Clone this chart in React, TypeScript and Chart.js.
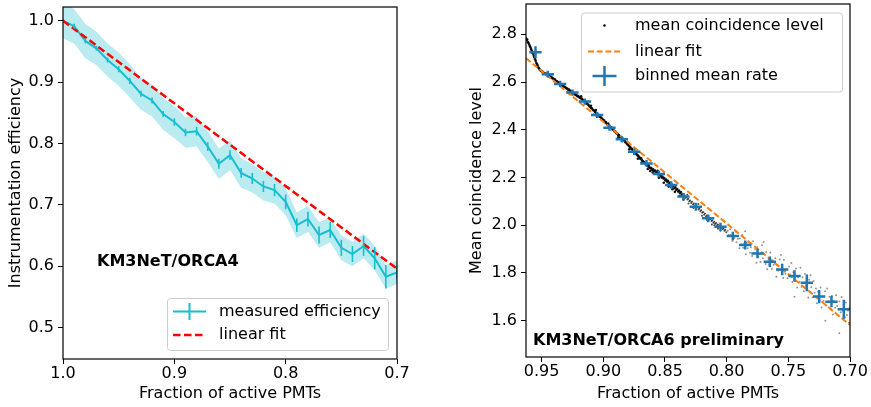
import { useEffect, useRef } from 'react';
import { Chart, registerables } from 'chart.js';

Chart.register(...registerables);

const FONT = '"DejaVu Sans", "Liberation Sans", sans-serif';

// ---------- Left panel: KM3NeT/ORCA4 ----------
const effFraction = [1.00, 0.99, 0.98, 0.97, 0.96, 0.95, 0.94, 0.93, 0.92, 0.91, 0.90, 0.89, 0.88, 0.87, 0.86, 0.85, 0.84, 0.83, 0.82, 0.81, 0.80, 0.79, 0.78, 0.77, 0.76, 0.75, 0.74, 0.73, 0.72, 0.71, 0.70];
const effValue = [1.000, 0.991, 0.967, 0.955, 0.936, 0.921, 0.902, 0.881, 0.870, 0.848, 0.835, 0.818, 0.820, 0.795, 0.767, 0.781, 0.752, 0.743, 0.730, 0.724, 0.705, 0.667, 0.677, 0.651, 0.659, 0.630, 0.620, 0.633, 0.613, 0.583, 0.590];
const effErr = [0.003, 0.004, 0.004, 0.004, 0.004, 0.005, 0.005, 0.005, 0.005, 0.005, 0.006, 0.006, 0.007, 0.007, 0.008, 0.008, 0.008, 0.009, 0.009, 0.010, 0.012, 0.011, 0.012, 0.014, 0.013, 0.013, 0.013, 0.016, 0.018, 0.019, 0.012];
const effBand = [0.029, 0.028, 0.028, 0.027, 0.027, 0.027, 0.027, 0.026, 0.026, 0.026, 0.026, 0.025, 0.025, 0.025, 0.025, 0.024, 0.024, 0.023, 0.023, 0.022, 0.022, 0.021, 0.021, 0.021, 0.020, 0.020, 0.020, 0.020, 0.020, 0.019, 0.019];
const effFitX = [1.0, 0.7];
const effFitY = [1.0, 0.596];
const leftXTicks = [1.0, 0.9, 0.8, 0.7];
const leftYTicks = [0.5, 0.6, 0.7, 0.8, 0.9, 1.0];

// ---------- Right panel: KM3NeT/ORCA6 ----------
const binFraction = [0.955, 0.945, 0.935, 0.925, 0.915, 0.905, 0.895, 0.885, 0.875, 0.865, 0.855, 0.845, 0.835, 0.825, 0.815, 0.805, 0.795, 0.785, 0.775, 0.765, 0.755, 0.745, 0.735, 0.725, 0.715, 0.705];
const binRate = [2.725, 2.633, 2.592, 2.556, 2.518, 2.462, 2.409, 2.360, 2.308, 2.259, 2.215, 2.169, 2.120, 2.078, 2.029, 1.994, 1.955, 1.917, 1.882, 1.847, 1.815, 1.787, 1.759, 1.701, 1.680, 1.648];
const binRateErr = [0.025, 0.014, 0.013, 0.013, 0.013, 0.013, 0.013, 0.013, 0.014, 0.014, 0.014, 0.015, 0.015, 0.016, 0.016, 0.017, 0.018, 0.019, 0.020, 0.022, 0.024, 0.024, 0.035, 0.028, 0.024, 0.040];
const binHalfWidth = [0.005, 0.005, 0.005, 0.005, 0.005, 0.005, 0.005, 0.005, 0.005, 0.005, 0.005, 0.005, 0.005, 0.005, 0.005, 0.005, 0.005, 0.005, 0.005, 0.005, 0.005, 0.005, 0.005, 0.005, 0.005, 0.005];
const rateFitX = [0.9627, 0.70];
const rateFitY = [2.700, 1.582];
const rightXTicks = [0.95, 0.90, 0.85, 0.80, 0.75, 0.70];
const rightYTicks = [1.6, 1.8, 2.0, 2.2, 2.4, 2.6, 2.8];

const coincidenceDots: number[][] = [
  [0.9627, 2.783], [0.9622, 2.776], [0.9617, 2.778], [0.9612, 2.768], [0.9607, 2.764], [0.9601, 2.757], [0.9596, 2.751], [0.9591, 2.746], [0.9586, 2.738], [0.9580, 2.732],
  [0.9575, 2.723], [0.9570, 2.719], [0.9564, 2.710], [0.9559, 2.703], [0.9553, 2.695], [0.9548, 2.688], [0.9543, 2.680], [0.9537, 2.674], [0.9532, 2.668], [0.9526, 2.661],
  [0.9521, 2.657], [0.9515, 2.652], [0.9508, 2.648], [0.9501, 2.645], [0.9494, 2.644], [0.9487, 2.639], [0.9480, 2.638], [0.9472, 2.634], [0.9465, 2.636], [0.9458, 2.630],
  [0.9450, 2.631], [0.9443, 2.626], [0.9436, 2.625], [0.9428, 2.620], [0.9421, 2.622], [0.9413, 2.616], [0.9406, 2.615], [0.9398, 2.609], [0.9391, 2.610], [0.9383, 2.604],
  [0.9376, 2.603], [0.9368, 2.599], [0.9361, 2.598], [0.9353, 2.594], [0.9346, 2.590], [0.9338, 2.591], [0.9331, 2.585], [0.9323, 2.583], [0.9316, 2.580], [0.9308, 2.578],
  [0.9301, 2.574], [0.9293, 2.573], [0.9286, 2.568], [0.9278, 2.569], [0.9271, 2.563], [0.9263, 2.562], [0.9256, 2.557], [0.9248, 2.556], [0.9241, 2.552], [0.9233, 2.551],
  [0.9226, 2.546], [0.9218, 2.546], [0.9211, 2.541], [0.9203, 2.541], [0.9196, 2.536], [0.9188, 2.534], [0.9181, 2.531], [0.9173, 2.530], [0.9166, 2.525], [0.9158, 2.524],
  [0.9151, 2.519], [0.9143, 2.516], [0.9136, 2.512], [0.9128, 2.507], [0.9121, 2.505], [0.9113, 2.499], [0.9106, 2.497], [0.9098, 2.490], [0.9091, 2.489], [0.9083, 2.483],
  [0.9076, 2.481], [0.9068, 2.476], [0.9061, 2.472], [0.9053, 2.469], [0.9046, 2.464], [0.9038, 2.462], [0.9031, 2.455], [0.9023, 2.454], [0.9016, 2.448], [0.9008, 2.446],
  [0.9001, 2.441], [0.8993, 2.439], [0.8986, 2.432], [0.8978, 2.431], [0.8971, 2.424], [0.8963, 2.423], [0.8956, 2.417], [0.8948, 2.414], [0.8941, 2.409], [0.8933, 2.409],
  [0.8926, 2.401], [0.8918, 2.400], [0.8911, 2.394], [0.8903, 2.393], [0.8896, 2.386], [0.8888, 2.385], [0.8881, 2.379], [0.8873, 2.378], [0.8866, 2.371], [0.8858, 2.370],
  [0.8851, 2.364], [0.8843, 2.361], [0.8836, 2.356], [0.8828, 2.355], [0.8821, 2.348], [0.8813, 2.346], [0.8806, 2.339], [0.8798, 2.337], [0.8791, 2.331], [0.8783, 2.329],
  [0.8776, 2.322], [0.8768, 2.320], [0.8761, 2.314], [0.8753, 2.311], [0.8746, 2.306], [0.8738, 2.301], [0.8731, 2.298], [0.8723, 2.292], [0.8716, 2.291], [0.8708, 2.285],
  [0.8701, 2.279], [0.8693, 2.280], [0.8686, 2.272], [0.8678, 2.268], [0.8671, 2.264], [0.8663, 2.262], [0.8656, 2.255], [0.8648, 2.253], [0.8641, 2.248], [0.8633, 2.251],
  [0.8626, 2.243], [0.8618, 2.238], [0.8611, 2.240], [0.8603, 2.232], [0.8596, 2.234], [0.8588, 2.226], [0.8581, 2.229], [0.8573, 2.219], [0.8566, 2.222], [0.8558, 2.214],
  [0.8551, 2.216], [0.8543, 2.207], [0.8536, 2.210], [0.8528, 2.200], [0.8521, 2.204], [0.8513, 2.196], [0.8506, 2.198], [0.8498, 2.188], [0.8491, 2.192], [0.8483, 2.182],
  [0.8476, 2.186], [0.8468, 2.175], [0.8461, 2.179], [0.8453, 2.170], [0.8446, 2.172], [0.8438, 2.162], [0.8431, 2.166], [0.8423, 2.155], [0.8416, 2.159], [0.8408, 2.148],
  [0.8401, 2.152], [0.8393, 2.141], [0.8386, 2.145], [0.8378, 2.134], [0.8371, 2.139], [0.8363, 2.127], [0.8356, 2.131], [0.8348, 2.121], [0.8341, 2.125], [0.8333, 2.114],
  [0.8326, 2.118], [0.8318, 2.108], [0.8311, 2.111], [0.8303, 2.101], [0.8296, 2.104], [0.8288, 2.093], [0.8281, 2.098], [0.8273, 2.087], [0.8266, 2.091], [0.8258, 2.080],
  [0.8251, 2.083], [0.8243, 2.073], [0.8236, 2.077], [0.8228, 2.066], [0.8221, 2.070], [0.8213, 2.059], [0.8206, 2.063], [0.8198, 2.052], [0.8191, 2.055], [0.8183, 2.044],
  [0.8176, 2.049], [0.8168, 2.037], [0.8161, 2.041], [0.8153, 2.030], [0.8146, 2.034], [0.8138, 2.024], [0.8131, 2.027], [0.8123, 2.018], [0.8116, 2.021], [0.8108, 2.011],
  [0.8101, 2.015], [0.8093, 2.006], [0.8086, 2.009], [0.8078, 2.000], [0.8071, 2.003], [0.8063, 1.995], [0.8056, 1.998], [0.8048, 1.989], [0.8041, 1.993], [0.8033, 1.983],
  [0.8026, 1.987], [0.8018, 1.977], [0.8011, 1.981], [0.8003, 1.971],
  [0.8790, 2.318], [0.8720, 2.279], [0.8640, 2.236], [0.8600, 2.221], [0.8550, 2.199], [0.8470, 2.162], [0.8420, 2.140], [0.8350, 2.108], [0.8310, 2.091], [0.8250, 2.066],
  [0.8200, 2.040], [0.8120, 2.003], [0.8070, 1.985], [0.8320, 2.128], [0.8560, 2.228], [0.8880, 2.368], [0.8960, 2.426], [0.9060, 2.483], [0.9100, 2.501], [0.9180, 2.540],
  [0.8510, 2.178], [0.8440, 2.151], [0.8380, 2.122], [0.8270, 2.072], [0.8160, 2.022], [0.8100, 2.000], [0.8050, 1.977], [0.8620, 2.227], [0.8690, 2.262], [0.8230, 2.089],
  [0.7991, 1.977], [0.7984, 1.958], [0.7972, 1.983], [0.7969, 1.959], [0.7953, 1.934], [0.7947, 1.962], [0.7938, 1.947], [0.7926, 1.973], [0.7921, 1.929], [0.7909, 1.943],
  [0.7897, 1.904], [0.7893, 1.945], [0.7881, 1.920], [0.7874, 1.959], [0.7866, 1.906], [0.7859, 1.922], [0.7844, 1.879], [0.7837, 1.927], [0.7829, 1.904], [0.7818, 1.928],
  [0.7811, 1.885], [0.7804, 1.908], [0.7793, 1.871], [0.7786, 1.933], [0.7777, 1.883], [0.7769, 1.900], [0.7758, 1.843], [0.7752, 1.908], [0.7743, 1.867], [0.7731, 1.879],
  [0.7726, 1.846], [0.7714, 1.916], [0.7707, 1.862], [0.7698, 1.881], [0.7685, 1.838], [0.7679, 1.888], [0.7671, 1.816], [0.7660, 1.859], [0.7654, 1.836], [0.7646, 1.886],
  [0.7633, 1.817], [0.7627, 1.853], [0.7618, 1.834], [0.7606, 1.862], [0.7597, 1.784], [0.7589, 1.833], [0.7581, 1.809], [0.7570, 1.856], [0.7562, 1.812], [0.7553, 1.835],
  [0.7541, 1.779], [0.7536, 1.855], [0.7524, 1.797], [0.7515, 1.815], [0.7507, 1.778], [0.7494, 1.827], [0.7488, 1.794], [0.7476, 1.842], [0.7467, 1.762], [0.7459, 1.803],
  [0.7447, 1.768], [0.7438, 1.819], [0.7429, 1.739], [0.7421, 1.782], [0.7410, 1.763], [0.7402, 1.822], [0.7393, 1.742], [0.7385, 1.782], [0.7374, 1.723], [0.7366, 1.796],
  [0.7358, 1.747], [0.7349, 1.774], [0.7338, 1.697], [0.7331, 1.772], [0.7322, 1.721], [0.7314, 1.740], [0.7303, 1.698], [0.7295, 1.766], [0.7287, 1.717], [0.7276, 1.735],
  [0.7268, 1.673], [0.7259, 1.721], [0.7247, 1.684], [0.7239, 1.739], [0.7231, 1.655], [0.7220, 1.701], [0.7214, 1.684], [0.7202, 1.723], [0.7193, 1.664], [0.7185, 1.735],
  [0.7177, 1.679], [0.7166, 1.700], [0.7158, 1.648], [0.7147, 1.705], [0.7139, 1.626], [0.7130, 1.683], [0.7121, 1.654], [0.7113, 1.707], [0.7104, 1.662], [0.7092, 1.621],
  [0.7086, 1.681], [0.7075, 1.635], [0.7068, 1.699], [0.7059, 1.642], [0.7048, 1.662], [0.7041, 1.614], [0.7033, 1.676], [0.7024, 1.624], [0.7016, 1.643], [0.7008, 1.591],
  [0.7003, 1.654],
  [0.7087, 1.547], [0.7200, 1.600], [0.7450, 1.700], [0.7700, 1.930], [0.7850, 1.975], [0.7320, 1.790], [0.7560, 1.875],
];

const CYAN = '#17becf';
const BLUE = '#1f77b4';
const ORANGE = '#ff7f0e';

const axisFont = { family: FONT, size: 16 };

function fixedTicks(values: number[]) {
  return (scale: any) => {
    scale.ticks = values.map((v) => ({ value: v }));
  };
}

function fitSize(prop: 'width' | 'height', size: number) {
  return (scale: any) => {
    scale[prop] = size;
    scale.paddingTop = 0;
    scale.paddingBottom = 0;
    scale.paddingLeft = 0;
    scale.paddingRight = 0;
  };
}

const framePlugin = {
  id: 'frame',
  afterDraw(chart: any) {
    const { ctx, chartArea } = chart;
    const { left, top, right, bottom } = chartArea;
    ctx.save();
    ctx.strokeStyle = '#000';
    ctx.lineWidth = 1.2;
    ctx.strokeRect(left, top, right - left, bottom - top);
    ctx.restore();
  },
};

const errorBarPlugin = {
  id: 'errorBars',
  afterDatasetsDraw(chart: any) {
    const { ctx, chartArea } = chart;
    const xs = chart.scales.x;
    const ys = chart.scales.y;
    ctx.save();
    ctx.beginPath();
    ctx.rect(chartArea.left, chartArea.top, chartArea.right - chartArea.left, chartArea.bottom - chartArea.top);
    ctx.clip();
    chart.data.datasets.forEach((ds: any) => {
      if (!ds.errY && !ds.errX) return;
      ctx.strokeStyle = ds.errColor;
      ctx.lineWidth = ds.errWidth;
      ctx.lineCap = 'butt';
      ds.data.forEach((p: any, i: number) => {
        const px = xs.getPixelForValue(p.x);
        const py = ys.getPixelForValue(p.y);
        ctx.beginPath();
        if (ds.errY) {
          const e = ds.errY[i];
          ctx.moveTo(px, ys.getPixelForValue(p.y - e));
          ctx.lineTo(px, ys.getPixelForValue(p.y + e));
        }
        if (ds.errX) {
          const e = ds.errX[i];
          ctx.moveTo(xs.getPixelForValue(p.x - e), py);
          ctx.lineTo(xs.getPixelForValue(p.x + e), py);
        }
        ctx.stroke();
      });
    });
    ctx.restore();
  },
};

type LegendItem = { label: string; symbol: (ctx: CanvasRenderingContext2D, x0: number, x1: number, y: number) => void };

function drawLegend(ctx: CanvasRenderingContext2D, x: number, y: number, w: number, h: number, rows: number[], textX: number, symX0: number, symX1: number, items: LegendItem[]) {
  ctx.save();
  ctx.beginPath();
  (ctx as any).roundRect(x + 0.5, y + 0.5, w, h, 3);
  ctx.fillStyle = 'rgba(255,255,255,0.8)';
  ctx.fill();
  ctx.strokeStyle = '#cccccc';
  ctx.lineWidth = 1;
  ctx.stroke();
  items.forEach((it, i) => {
    const ry = y + rows[i];
    it.symbol(ctx, x + symX0, x + symX1, ry);
    ctx.fillStyle = '#000';
    ctx.font = `16px ${FONT}`;
    ctx.textAlign = 'left';
    ctx.textBaseline = 'middle';
    ctx.fillText(it.label, x + textX, ry);
  });
  ctx.restore();
}

function dashedSymbol(color: string, width: number, dash: number[]) {
  return (ctx: CanvasRenderingContext2D, x0: number, x1: number, y: number) => {
    ctx.save();
    ctx.strokeStyle = color;
    ctx.lineWidth = width;
    ctx.setLineDash(dash);
    ctx.beginPath();
    ctx.moveTo(x0, y);
    ctx.lineTo(x1, y);
    ctx.stroke();
    ctx.restore();
  };
}

function leftConfig(): any {
  const pts = (ys: number[]) => effFraction.map((x, i) => ({ x, y: ys[i] }));
  const upper = effValue.map((v, i) => v + effBand[i]);
  const lower = effValue.map((v, i) => v - effBand[i]);
  const overlay = {
    id: 'leftOverlay',
    afterDraw(chart: any) {
      const { ctx, chartArea } = chart;
      ctx.save();
      ctx.fillStyle = '#000';
      ctx.font = `bold 16px ${FONT}`;
      ctx.textAlign = 'left';
      ctx.textBaseline = 'middle';
      ctx.fillText('KM3NeT/ORCA4', chartArea.left + 34, chartArea.top + 255);
      ctx.restore();
      const ds = chart.data.datasets;
      drawLegend(ctx, chartArea.right - 230, chartArea.bottom - 61, 221, 52, [13.5, 37], 52, 6, 39, [
        {
          label: ds[2].label,
          symbol: (c, x0, x1, y) => {
            c.save();
            c.strokeStyle = CYAN;
            c.lineWidth = 2;
            c.beginPath();
            c.moveTo(x0, y);
            c.lineTo(x1, y);
            c.moveTo((x0 + x1) / 2, y - 8.5);
            c.lineTo((x0 + x1) / 2, y + 8.5);
            c.stroke();
            c.restore();
          },
        },
        { label: ds[3].label, symbol: dashedSymbol('#ff0000', 2.5, [7.5, 3.5]) },
      ]);
    },
  };
  return {
    type: 'scatter',
    data: {
      datasets: [
        { label: 'band upper', data: pts(upper), showLine: true, borderWidth: 0, pointRadius: 0, backgroundColor: 'rgba(23,190,207,0.3)', borderColor: 'rgba(0,0,0,0)', fill: '+1', order: 3 },
        { label: 'band lower', data: pts(lower), showLine: true, borderWidth: 0, pointRadius: 0, borderColor: 'rgba(0,0,0,0)', fill: false, order: 3 },
        { label: 'measured efficiency', data: pts(effValue), showLine: true, borderColor: CYAN, borderWidth: 2, pointRadius: 0, fill: false, order: 2, errY: effErr, errColor: CYAN, errWidth: 1.6 },
        { label: 'linear fit', data: effFitX.map((x, i) => ({ x, y: effFitY[i] })), showLine: true, borderColor: '#ff0000', borderWidth: 2.5, borderDash: [7.5, 3.5], pointRadius: 0, fill: false, order: 1 },
      ],
    },
    options: {
      animation: false,
      responsive: false,
      layout: { padding: { top: 7, right: 23, left: 0, bottom: 0 } },
      plugins: { legend: { display: false }, tooltip: { enabled: false } },
      scales: {
        x: {
          type: 'linear', reverse: true, min: 0.7, max: 1.0,
          afterBuildTicks: fixedTicks(leftXTicks),
          afterFit: fitSize('height', 48),
          ticks: { font: axisFont, color: '#000', padding: 0, maxRotation: 0, autoSkip: false, callback: (v: any) => Number(v).toFixed(1) },
          grid: { drawOnChartArea: false, drawTicks: true, tickLength: 5, tickColor: '#000', tickWidth: 1 },
          border: { display: false },
          title: { display: true, text: 'Fraction of active PMTs', font: axisFont, color: '#000', padding: { top: 0, bottom: 4 } },
        },
        y: {
          type: 'linear', min: 0.449, max: 1.0223,
          afterBuildTicks: fixedTicks(leftYTicks),
          afterFit: fitSize('width', 63),
          ticks: { font: axisFont, color: '#000', padding: 4, autoSkip: false, callback: (v: any) => Number(v).toFixed(1) },
          grid: { drawOnChartArea: false, drawTicks: true, tickLength: 5, tickColor: '#000', tickWidth: 1 },
          border: { display: false },
          title: { display: true, text: 'Instrumentation efficiency', font: axisFont, color: '#000', padding: { top: 6, bottom: 0 } },
        },
      },
    },
    plugins: [errorBarPlugin, framePlugin, overlay],
  };
}

function rightConfig(): any {
  const overlay = {
    id: 'rightOverlay',
    afterDraw(chart: any) {
      const { ctx, chartArea } = chart;
      ctx.save();
      ctx.fillStyle = '#000';
      ctx.font = `bold 16px ${FONT}`;
      ctx.textAlign = 'left';
      ctx.textBaseline = 'middle';
      ctx.fillText('KM3NeT/ORCA6 preliminary', chartArea.left + 7, chartArea.bottom - 16);
      ctx.restore();
      const ds = chart.data.datasets;
      drawLegend(ctx, chartArea.right - 269, chartArea.top + 8.5, 261, 79, [13, 39, 63.5], 54, 7, 40, [
        {
          label: ds[2].label,
          symbol: (c, x0, x1, y) => {
            c.save();
            c.fillStyle = '#000';
            c.beginPath();
            c.arc((x0 + x1) / 2, y, 1.2, 0, Math.PI * 2);
            c.fill();
            c.restore();
          },
        },
        { label: ds[0].label, symbol: dashedSymbol(ORANGE, 2, [6, 2.7]) },
        {
          label: ds[1].label,
          symbol: (c, x0, x1, y) => {
            const cx = (x0 + x1) / 2;
            c.save();
            c.strokeStyle = BLUE;
            c.lineWidth = 2.5;
            c.beginPath();
            c.moveTo(cx - 12, y);
            c.lineTo(cx + 12, y);
            c.moveTo(cx, y - 10);
            c.lineTo(cx, y + 10);
            c.stroke();
            c.restore();
          },
        },
      ]);
    },
  };
  const dense = (c: any) => (c.raw && c.raw.x >= 0.835);
  return {
    type: 'scatter',
    data: {
      datasets: [
        { label: 'linear fit', data: rateFitX.map((x, i) => ({ x, y: rateFitY[i] })), showLine: true, borderColor: ORANGE, borderWidth: 2, borderDash: [6, 2.7], pointRadius: 0, order: 1 },
        { label: 'binned mean rate', data: binFraction.map((x, i) => ({ x, y: binRate[i] })), showLine: false, pointRadius: 0, order: 0, errY: binRateErr, errX: binHalfWidth, errColor: BLUE, errWidth: 2.5 },
        {
          label: 'mean coincidence level',
          data: coincidenceDots.map((p) => ({ x: p[0], y: p[1] })),
          showLine: false,
          pointRadius: (c: any) => (dense(c) ? 1.3 : 1.0),
          pointBorderWidth: 0,
          pointBackgroundColor: (c: any) => (dense(c) ? 'rgba(0,0,0,0.9)' : (c.raw && c.raw.x >= 0.80 ? 'rgba(0,0,0,0.7)' : 'rgba(0,0,0,0.42)')),
          order: 2,
        },
      ],
    },
    options: {
      animation: false,
      responsive: false,
      layout: { padding: { top: 4, right: 21, left: 0, bottom: 0 } },
      plugins: { legend: { display: false }, tooltip: { enabled: false } },
      scales: {
        x: {
          type: 'linear', reverse: true, min: 0.70, max: 0.9627,
          afterBuildTicks: fixedTicks(rightXTicks),
          afterFit: fitSize('height', 50),
          ticks: { font: axisFont, color: '#000', padding: 0, maxRotation: 0, autoSkip: false, callback: (v: any) => Number(v).toFixed(2) },
          grid: { drawOnChartArea: false, drawTicks: true, tickLength: 5, tickColor: '#000', tickWidth: 1 },
          border: { display: false },
          title: { display: true, text: 'Fraction of active PMTs', font: axisFont, color: '#000', padding: { top: 0, bottom: 3.5 } },
        },
        y: {
          type: 'linear', min: 1.448, max: 2.927,
          afterBuildTicks: fixedTicks(rightYTicks),
          afterFit: fitSize('width', 96),
          ticks: { font: axisFont, color: '#000', padding: 4, autoSkip: false, callback: (v: any) => Number(v).toFixed(1) },
          grid: { drawOnChartArea: false, drawTicks: true, tickLength: 5, tickColor: '#000', tickWidth: 1 },
          border: { display: false },
          title: { display: true, text: 'Mean coincidence level', font: axisFont, color: '#000', padding: { top: 37, bottom: 0 } },
        },
      },
    },
    plugins: [errorBarPlugin, framePlugin, overlay],
  };
}

export default function App() {
  const leftRef = useRef<HTMLCanvasElement>(null);
  const rightRef = useRef<HTMLCanvasElement>(null);
  useEffect(() => {
    const c1 = new Chart(leftRef.current as HTMLCanvasElement, leftConfig());
    const c2 = new Chart(rightRef.current as HTMLCanvasElement, rightConfig());
    return () => {
      c1.destroy();
      c2.destroy();
    };
  }, []);
  return (
    <div style={{ position: 'absolute', left: 0, top: 0, width: 871, height: 407, background: '#fff' }}>
      <canvas ref={leftRef} width={420} height={407} style={{ position: 'absolute', left: 0, top: 0, width: 420, height: 407 }} />
      <canvas ref={rightRef} width={441} height={407} style={{ position: 'absolute', left: 430, top: 0, width: 441, height: 407 }} />
    </div>
  );
}
